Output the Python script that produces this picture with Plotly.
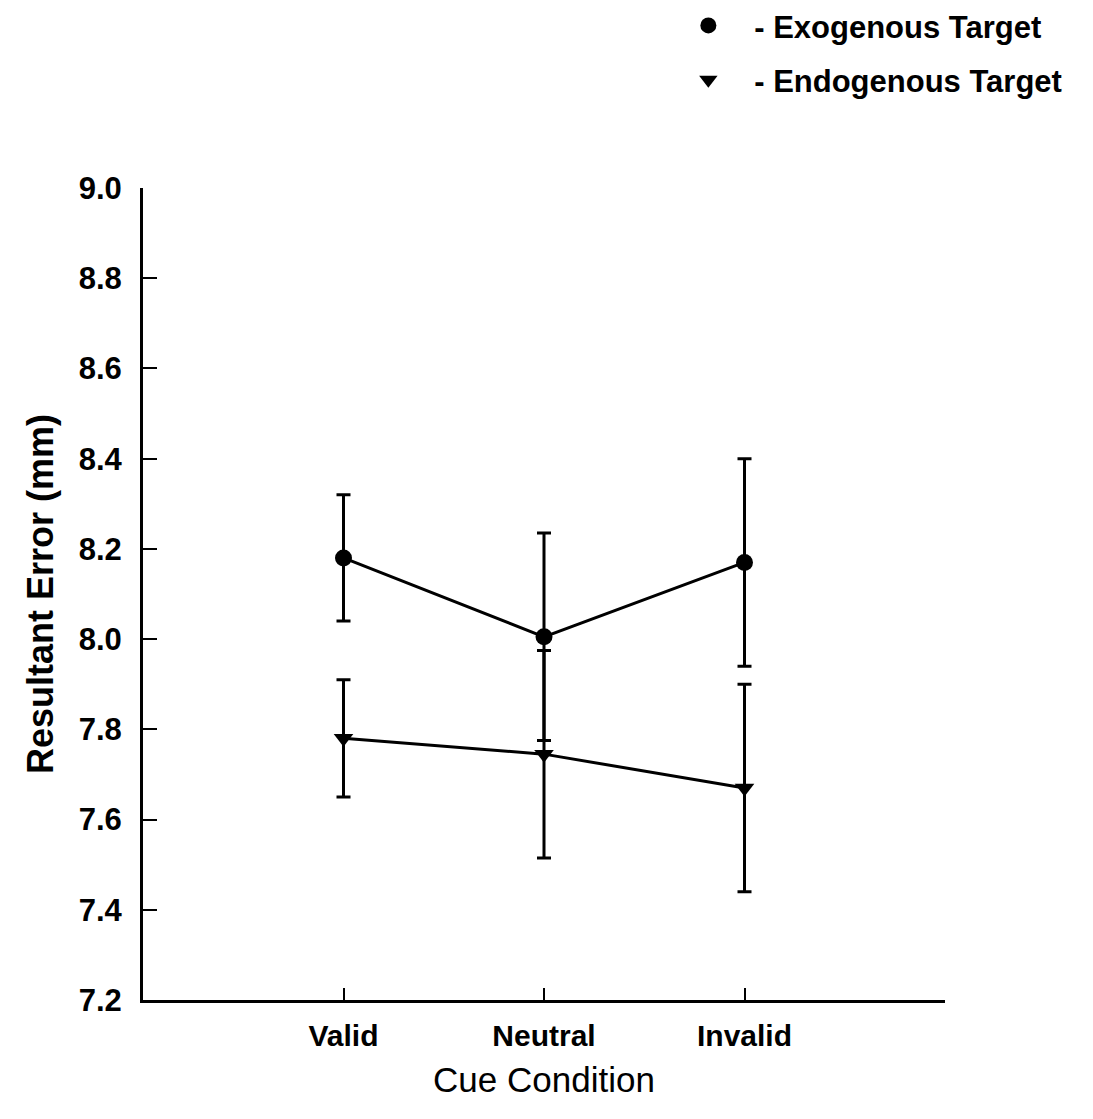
import plotly.graph_objects as go

categories = ["Valid", "Neutral", "Invalid"]
cat_pos = [1, 2, 3]
exo_mean = [8.18, 8.005, 8.17]
exo_err = [0.14, 0.23, 0.23]
endo_mean = [7.78, 7.745, 7.67]
endo_err = [0.13, 0.23, 0.23]
y_ticks = [7.2, 7.4, 7.6, 7.8, 8.0, 8.2, 8.4, 8.6, 8.8, 9.0]

FONT = "Liberation Sans, Arial, sans-serif"

fig = go.Figure()

def add_series(mean, err, symbol, name):
    fig.add_trace(go.Scatter(
        x=cat_pos, y=mean, mode="lines+markers",
        line=dict(color="black", width=3),
        marker=dict(symbol=symbol, size=17, color="black"),
        error_y=dict(type="data", array=err, visible=True, color="black",
                     thickness=3, width=7),
        showlegend=False,
    ))
    fig.add_trace(go.Scatter(
        x=[None], y=[None], mode="markers",
        marker=dict(symbol=symbol, size=18, color="black"),
        name=name, showlegend=True, legendgroup=name,
    ))

add_series(exo_mean, exo_err, "circle", "   - Exogenous Target")
add_series(endo_mean, endo_err, "triangle-down", "   - Endogenous Target")

fig.update_layout(
    width=1093, height=1119,
    margin=dict(l=143, r=148, t=188, b=119, autoexpand=False),
    paper_bgcolor="white", plot_bgcolor="white",
    font=dict(family=FONT, color="black", size=26),
    legend=dict(
        x=0.68, y=1.233, xanchor="left", yanchor="top",
        font=dict(family=FONT, size=31, weight="bold", color="black"),
        tracegroupgap=11, itemwidth=30,
        bgcolor="rgba(0,0,0,0)",
    ),
    xaxis=dict(
        range=[0, 4], tickvals=[1, 2, 3, 4], ticktext=categories + [""],
        ticks="inside", ticklen=12, tickwidth=2, tickcolor="black",
        showline=True, linecolor="black", linewidth=3,
        showgrid=False, zeroline=False,
        tickfont=dict(family=FONT, size=30, weight="bold"),
        ticklabelstandoff=7,
        title=dict(text="Cue Condition", font=dict(family=FONT, size=35), standoff=17),
    ),
    yaxis=dict(
        range=[7.2, 9.0], tickvals=y_ticks, tickformat=".1f",
        ticks="inside", ticklen=14, tickwidth=2, tickcolor="black",
        showline=True, linecolor="black", linewidth=3,
        showgrid=False, zeroline=False,
        tickfont=dict(family=FONT, size=31, weight="bold"),
        ticklabelstandoff=12,
        title=dict(text="Resultant Error (mm)", font=dict(family=FONT, size=36, weight="bold"), standoff=15),
    ),
)

fig.write_html("out.html")
